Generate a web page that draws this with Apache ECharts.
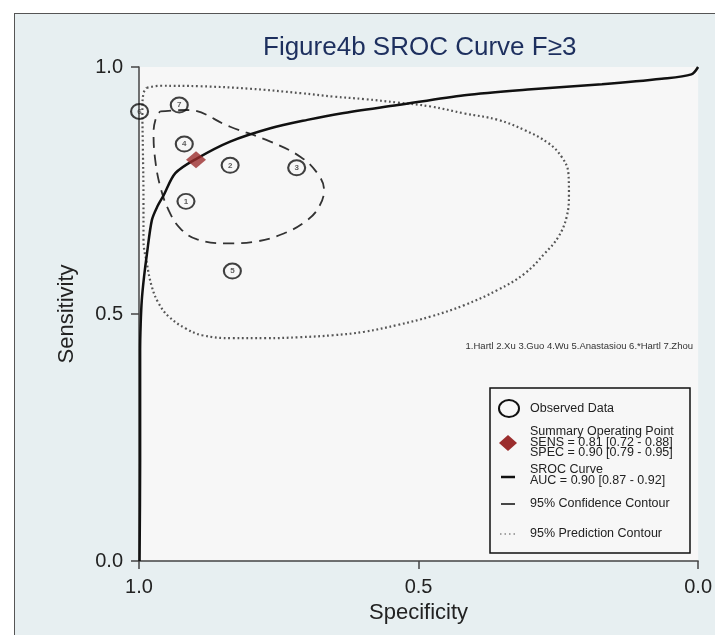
<!DOCTYPE html>
<html>
<head>
<meta charset="utf-8">
<script src="https://cdn.jsdelivr.net/npm/echarts@6/dist/echarts.min.js"></script>
<style>
  html, body { margin:0; padding:0; background:#ffffff; }
  #frame { position:absolute; left:14px; top:13px; width:710px; height:630px;
           background:#e7eff1; border-left:1.5px solid #555; border-top:1.5px solid #555; }
  #chart { position:absolute; left:0; top:0; width:715px; height:635px; }
</style>
</head>
<body>
<div id="frame"></div>
<div id="chart"></div>
<script>
// ---- data ----
const titleText = 'Figure4b SROC Curve F\u22653';
const xTickLabels = ['1.0', '0.5', '0.0'];
const yTickLabels = ['0.0', '0.5', '1.0'];
const studyLabels = ['1', '2', '3', '4', '5', '6', '7'];
const studySpec = [0.916, 0.837, 0.718, 0.919, 0.833, 0.999, 0.928];
const studySens = [0.728, 0.801, 0.796, 0.844, 0.587, 0.910, 0.923];
const summarySpec = [0.898];
const summarySens = [0.812];
const srocSpec = [0.999, 0.998, 0.998, 0.997, 0.995, 0.991, 0.986, 0.977, 0.967, 0.956, 0.935, 0.896, 0.837, 0.765, 0.699, 0.639, 0.537, 0.418, 0.298, 0.172, 0.065, 0.012, 0.0];
const srocSens = [0.000, 0.200, 0.427, 0.480, 0.528, 0.575, 0.620, 0.690, 0.718, 0.740, 0.785, 0.815, 0.849, 0.876, 0.893, 0.906, 0.923, 0.943, 0.955, 0.965, 0.976, 0.985, 1.000];
const confSpec = [0.962, 0.914, 0.837, 0.765, 0.711, 0.681, 0.669, 0.678, 0.699, 0.741, 0.795, 0.843, 0.896, 0.926, 0.947, 0.962, 0.971, 0.974, 0.969, 0.962];
const confSens = [0.910, 0.913, 0.879, 0.849, 0.818, 0.785, 0.751, 0.717, 0.690, 0.663, 0.646, 0.643, 0.651, 0.673, 0.710, 0.758, 0.812, 0.866, 0.899, 0.910];
const predSpec = [0.986, 0.962, 0.890, 0.801, 0.711, 0.651, 0.597, 0.537, 0.478, 0.418, 0.358, 0.310, 0.268, 0.244, 0.232, 0.231, 0.235, 0.250, 0.274, 0.310, 0.358, 0.418, 0.478, 0.537, 0.597, 0.653, 0.713, 0.773, 0.833, 0.887, 0.917, 0.947, 0.965, 0.977, 0.986, 0.992, 0.992, 0.993, 0.994, 0.992, 0.986];
const predSens = [0.958, 0.962, 0.961, 0.956, 0.947, 0.940, 0.935, 0.928, 0.920, 0.906, 0.893, 0.872, 0.846, 0.818, 0.785, 0.744, 0.697, 0.656, 0.623, 0.582, 0.549, 0.518, 0.495, 0.478, 0.464, 0.457, 0.453, 0.451, 0.451, 0.457, 0.471, 0.495, 0.522, 0.555, 0.603, 0.650, 0.731, 0.832, 0.913, 0.947, 0.958];
const legendObserved = 'Observed Data';
const legendSummary = ['Summary Operating Point', 'SENS = 0.81 [0.72 - 0.88]', 'SPEC = 0.90 [0.79 - 0.95]'];
const legendCurve = ['SROC Curve', 'AUC = 0.90 [0.87 - 0.92]'];
const legendConf = '95% Confidence Contour';
const legendPred = '95% Prediction Contour';
const footnote = '1.Hartl 2.Xu 3.Guo 4.Wu 5.Anastasiou 6.*Hartl 7.Zhou';

const zip = (a, b) => a.map((v, i) => [v, b[i]]);
const FONT = 'Liberation Sans, Arial, sans-serif';
const tickMap = (vals, labels) => { const m = {}; vals.forEach((v, i) => m[v.toFixed(1)] = labels[i]); return m; };
const xMap = tickMap([1, 0.5, 0], xTickLabels);
const yMap = tickMap([0, 0.5, 1], yTickLabels);

const chart = echarts.init(document.getElementById('chart'), null, { renderer: 'canvas' });

const legX = 490, legY = 388;
const txt = (t, x, y, size, color) => ({
  type: 'text', z: 101, style: { text: t, x: x, y: y, fill: color || '#222', font: size + 'px ' + FONT, textVerticalAlign: 'middle', textAlign: 'left' }
});

chart.setOption({
  backgroundColor: 'transparent',
  animation: false,
  title: {
    text: titleText, left: 258, top: 30,
    textStyle: { fontFamily: FONT, fontSize: 26, fontWeight: 'normal', color: '#1d2f5e' }
  },
  grid: { left: 139, right: 16, top: 67, bottom: 74, show: true, backgroundColor: '#f7f7f7', borderWidth: 0 },
  xAxis: {
    type: 'value', min: 0, max: 1, interval: 0.5, inverse: true,
    name: 'Specificity', nameLocation: 'middle', nameGap: 32,
    nameTextStyle: { fontFamily: FONT, fontSize: 22, color: '#222' },
    axisLine: { show: true, onZero: false, lineStyle: { color: '#444', width: 1.5 } },
    axisTick: { show: true, length: 8, lineStyle: { color: '#444', width: 1.5 } },
    axisLabel: { margin: 16, fontFamily: FONT, fontSize: 20, color: '#222', formatter: v => xMap[v.toFixed(1)] },
    splitLine: { show: false }
  },
  yAxis: {
    type: 'value', min: 0, max: 1, interval: 0.5,
    name: 'Sensitivity', nameLocation: 'middle', nameGap: 61,
    nameTextStyle: { fontFamily: FONT, fontSize: 22, color: '#222' },
    axisLine: { show: true, onZero: false, lineStyle: { color: '#444', width: 1.5 } },
    axisTick: { show: true, length: 8, lineStyle: { color: '#444', width: 1.5 } },
    axisLabel: { margin: 16, fontFamily: FONT, fontSize: 20, color: '#222', formatter: v => yMap[v.toFixed(1)] },
    splitLine: { show: false }
  },
  series: [
    {
      name: '95% Prediction Contour', type: 'line', data: zip(predSpec, predSens), smooth: 0.4,
      symbol: 'none', clip: false, z: 2,
      lineStyle: { color: '#555', width: 2.2, type: [1.8, 2.7] }
    },
    {
      name: '95% Confidence Contour', type: 'line', data: zip(confSpec, confSens), smooth: 0.4,
      symbol: 'none', clip: false, z: 3,
      lineStyle: { color: '#333', width: 1.8, type: [11, 7] }
    },
    {
      name: 'SROC Curve', type: 'line', data: zip(srocSpec, srocSens), smooth: 0.3,
      symbol: 'none', clip: false, z: 4,
      lineStyle: { color: '#111', width: 2.5 }
    },
    {
      name: 'Observed Data', type: 'scatter', clip: false, z: 5,
      data: studySpec.map((s, i) => ({ value: [s, studySens[i]], name: studyLabels[i] })),
      symbol: 'circle', symbolSize: [17, 15],
      itemStyle: { color: 'rgba(0,0,0,0)', borderColor: '#111', borderWidth: 2 },
      label: { show: true, position: 'inside', formatter: p => p.name, fontFamily: FONT, fontSize: 8, fontWeight: 'bold', color: '#333' }
    },
    {
      name: 'Summary Operating Point', type: 'scatter', clip: false, z: 6,
      data: zip(summarySpec, summarySens),
      symbol: 'diamond', symbolSize: [20, 17],
      itemStyle: { color: '#9b2d2d' }
    }
  ],
  graphic: [
    { type: 'text', z: 100, style: { text: footnote, x: 693, y: 346, fill: '#333', font: '9.5px ' + FONT, textAlign: 'right', textVerticalAlign: 'middle' } },
    { type: 'rect', z: 100, shape: { x: legX, y: legY, width: 200, height: 165 }, style: { fill: '#f7f7f7', stroke: '#111', lineWidth: 1.5 } },
    { type: 'ellipse', z: 101, shape: { cx: 509, cy: 408.5, rx: 10, ry: 8.5 }, style: { fill: 'none', stroke: '#111', lineWidth: 2 } },
    { type: 'polygon', z: 101, shape: { points: [[499, 443], [508, 435], [517, 443], [508, 451]] }, style: { fill: '#9b2d2d' } },
    { type: 'line', z: 101, shape: { x1: 501, y1: 477, x2: 515, y2: 477 }, style: { stroke: '#111', lineWidth: 2.5 } },
    { type: 'line', z: 101, shape: { x1: 501, y1: 504, x2: 515, y2: 504 }, style: { stroke: '#333', lineWidth: 1.8 } },
    { type: 'line', z: 101, shape: { x1: 500, y1: 534, x2: 516, y2: 534 }, style: { stroke: '#888', lineWidth: 1.5, lineDash: [1.5, 3] } },
    txt(legendObserved, 530, 408.5, 12.5),
    txt(legendSummary[0], 530, 431.7, 12.5),
    txt(legendSummary[1], 530, 442.3, 12.5),
    txt(legendSummary[2], 530, 452.7, 12.5),
    txt(legendCurve[0], 530, 470, 12.5),
    txt(legendCurve[1], 530, 480.7, 12.5),
    txt(legendConf, 530, 504, 12.5),
    txt(legendPred, 530, 533.3, 12.5)
  ]
});
</script>
</body>
</html>
